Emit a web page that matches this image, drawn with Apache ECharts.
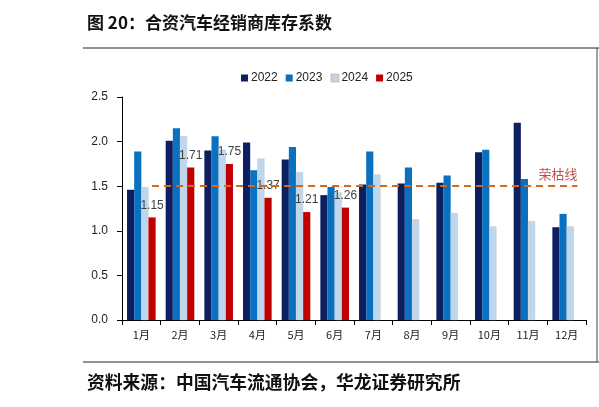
<!DOCTYPE html>
<html><head><meta charset="utf-8">
<script src="https://cdn.jsdelivr.net/npm/echarts@6/dist/echarts.min.js"></script>
<style>html,body{margin:0;padding:0;background:#fff}#c{width:599px;height:407px}</style>
</head><body><div id="c"></div>
<script>
const categories = ['1月','2月','3月','4月','5月','6月','7月','8月','9月','10月','11月','12月'];
const s2022 = [1.46,2.01,1.90,1.99,1.80,1.40,1.52,1.53,1.54,1.88,2.21,1.04];
const s2023 = [1.89,2.15,2.06,1.68,1.94,1.49,1.89,1.71,1.62,1.91,1.58,1.19];
const s2024 = [1.49,2.06,1.91,1.81,1.66,1.43,1.63,1.13,1.20,1.05,1.11,1.05];
const s2025 = [1.15,1.71,1.75,1.37,1.21,1.26];
const threshold = 1.5;
const thresholdName = '荣枯线';
const yTicks = {min:0, max:2.5, interval:0.5};

const chart = echarts.init(document.getElementById('c'));
const font = '"Liberation Sans", Arial, sans-serif';
function bar(name, data, color, extra) {
  return Object.assign({
    name, type:'bar', data, barGap:'0%', barCategoryGap:'26%',
    itemStyle:{color}
  }, extra||{});
}
chart.setOption({
  animation:false,
  graphic:[
    {type:'text', left:87, top:14, style:{text:'图 20：合资汽车经销商库存系数', font:'bold 17px "Noto Sans CJK SC"', fill:'#111'}},
    {type:'line', shape:{x1:83,y1:48,x2:599,y2:48}, style:{stroke:'#222',lineWidth:1}},
    {type:'line', shape:{x1:83,y1:362,x2:599,y2:362}, style:{stroke:'#222',lineWidth:1}},
    {type:'line', shape:{x1:597,y1:48,x2:597,y2:362}, style:{stroke:'#444',lineWidth:1}},
    {type:'text', left:87, top:373, style:{text:'资料来源：中国汽车流通协会，华龙证券研究所', font:'bold 17.8px "Noto Sans CJK SC"', fill:'#111'}}
  ],
  legend:{
    top:67, left:236, itemWidth:7, itemHeight:7, itemGap:8, icon:'rect',
    textStyle:{fontSize:12, color:'#222', fontFamily:font, padding:[0,0,0,-2]},
    data:['2022','2023','2024','2025']
  },
  grid:{left:122, right:13, top:97, bottom:87},
  xAxis:{
    type:'category', data:categories,
    axisLine:{lineStyle:{color:'#000'}},
    axisTick:{show:true, length:5, lineStyle:{color:'#000'}},
    axisLabel:{fontSize:11, color:'#222', margin:9, fontFamily:'"Noto Sans CJK SC"'}
  },
  yAxis:{
    type:'value', min:yTicks.min, max:yTicks.max, interval:yTicks.interval,
    splitLine:{show:false},
    axisLine:{show:true, lineStyle:{color:'#000'}},
    axisTick:{show:true, inside:false, length:5, lineStyle:{color:'#000'}},
    axisLabel:{fontSize:12, color:'#222', margin:14, fontFamily:font, formatter:v=>v.toFixed(1)}
  },
  series:[
    bar('2022', s2022, '#0c1f5f'),
    bar('2023', s2023, '#0a70c0'),
    bar('2024', s2024, '#bdd7ee', {itemStyle:{color:'#bdd7ee', borderColor:'#c8c8c8', borderWidth:0.5}}),
    bar('2025', s2025, '#c00000', {
      label:{show:true, position:'top', distance:6, color:'#404040', fontSize:12, fontFamily:font, formatter:p=>p.value.toFixed(2)},
      markLine:{
        symbol:'none', silent:true,
        lineStyle:{color:'#d2691e', type:[7,5], width:2},
        label:{show:true, position:'insideEndTop', formatter:thresholdName, color:'#c0504d', fontSize:13, fontFamily:'"Noto Sans CJK SC"', distance:[0,6]},
        data:[[{coord:[0,threshold]},{coord:[11,threshold]}]]
      }
    })
  ]
});
</script></body></html>
